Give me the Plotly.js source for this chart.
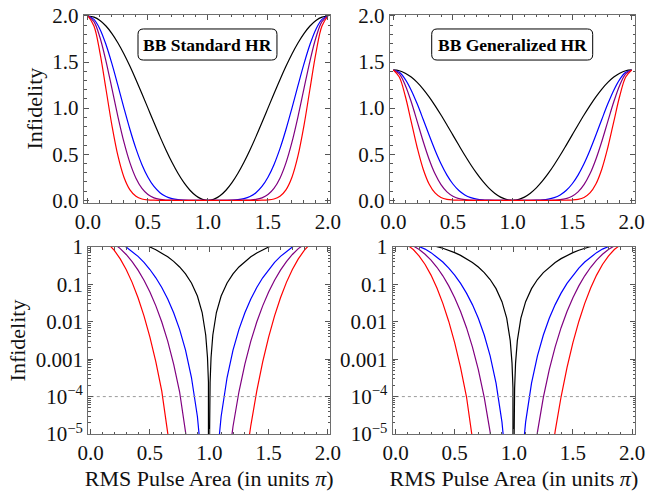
<!DOCTYPE html>
<html>
<head>
<meta charset="utf-8">
<script src="https://cdn.plot.ly/plotly-3.0.1.min.js"></script>
<style>html,body{margin:0;padding:0;background:#fff;}#chart{width:657px;height:491px;}</style>
</head>
<body>
<div id="chart"></div>
<script>
// RMS pulse area (units of pi)
const pulseArea = [0, 0.05, 0.1, 0.15, 0.2, 0.25, 0.3, 0.35, 0.4, 0.45, 0.5, 0.55, 0.6, 0.65, 0.7, 0.75, 0.8, 0.85, 0.9, 0.94, 0.97, 0.985, 0.993, 0.997, 0.9985, 0.9993, 1,
  1.0007, 1.0015, 1.003, 1.007, 1.015, 1.03, 1.06, 1.1, 1.15, 1.2, 1.25, 1.3, 1.35, 1.4, 1.45, 1.5, 1.55, 1.6, 1.65, 1.7, 1.75, 1.8, 1.85, 1.9, 1.95, 2];

// BB Standard HR
const stdBlack = [2, 1.98769, 1.95106, 1.89101, 1.80902, 1.70711, 1.58779, 1.45399, 1.30902, 1.15643, 1, 0.84357, 0.69098, 0.54601, 0.41221, 0.29289, 0.19098, 0.10899, 0.04894, 0.01771, 0.004438, 0.00111, 0.0002418, 4.442e-5, 1.11e-5, 2.418e-6, 0,
  2.418e-6, 1.11e-5, 4.442e-5, 0.0002418, 0.00111, 0.004438, 0.01771, 0.04894, 0.10899, 0.19098, 0.29289, 0.41221, 0.54601, 0.69098, 0.84357, 1, 1.15643, 1.30902, 1.45399, 1.58779, 1.70711, 1.80902, 1.89101, 1.95106, 1.98769, 2];
const stdBlue = [2, 1.9633, 1.8567, 1.6905, 1.4801, 1.2437, 1.0007, 0.7685, 0.5608, 0.3866, 0.25, 0.1501, 0.0825, 0.0407, 0.01751, 0.006282, 0.001741, 3.237e-4, 2.931e-5, 1.389e-6, 2.19e-8, 0, 0, 0, 0, 0, 0,
  0, 0, 0, 0, 0, 2.19e-8, 1.389e-6, 2.931e-5, 3.237e-4, 0.001741, 0.006282, 0.01751, 0.0407, 0.0825, 0.1501, 0.25, 0.3866, 0.5608, 0.7685, 1.0007, 1.2437, 1.4801, 1.6905, 1.8567, 1.9633, 2];
const stdPurple = [2, 1.9392, 1.7670, 1.5113, 1.2109, 0.9061, 0.6307, 0.4061, 0.2402, 0.1293, 0.0625, 0.0267, 0.00984, 0.003033, 7.432e-4, 1.347e-4, 1.587e-5, 9.61e-7, 1.76e-8, 1.1e-10, 0, 0, 0, 0, 0, 0, 0,
  0, 0, 0, 0, 0, 0, 1.1e-10, 1.76e-8, 9.61e-7, 1.587e-5, 1.347e-4, 7.432e-4, 0.003033, 0.00984, 0.0267, 0.0625, 0.1293, 0.2402, 0.4061, 0.6307, 0.9061, 1.2109, 1.5113, 1.7670, 1.9392, 2];
const stdRed = [2, 1.8919, 1.6003, 1.2078, 0.8105, 0.4809, 0.2505, 0.1134, 0.04408, 0.014445, 0.003906, 8.456e-4, 1.400e-4, 1.684e-5, 1.34e-6, 6.2e-8, 1.3e-9, 8.4e-12, 0, 0, 0, 0, 0, 0, 0, 0, 0,
  0, 0, 0, 0, 0, 0, 0, 0, 8.4e-12, 1.3e-9, 6.2e-8, 1.34e-6, 1.684e-5, 1.400e-4, 8.456e-4, 0.003906, 0.014445, 0.04408, 0.1134, 0.2505, 0.4809, 0.8105, 1.2078, 1.6003, 1.8919, 2];

// BB Generalized HR
const genBlack = [1.41421, 1.4055, 1.37961, 1.33714, 1.27917, 1.20711, 1.12274, 1.02813, 0.92562, 0.81772, 0.70711, 0.5965, 0.4886, 0.38609, 0.29148, 0.20711, 0.13504, 0.07707, 0.03461, 0.012523, 0.003138, 7.85e-4, 1.71e-4, 3.141e-5, 7.85e-6, 1.71e-6, 0,
  1.71e-6, 7.85e-6, 3.141e-5, 1.71e-4, 7.85e-4, 0.003138, 0.012523, 0.03461, 0.07707, 0.13504, 0.20711, 0.29148, 0.38609, 0.4886, 0.5965, 0.70711, 0.81772, 0.92562, 1.02813, 1.12274, 1.20711, 1.27917, 1.33714, 1.37961, 1.4055, 1.41421];
const genBlue = [1.41421, 1.38825, 1.31291, 1.19537, 1.04658, 0.87945, 0.70762, 0.54338, 0.39652, 0.2734, 0.17678, 0.10612, 0.05832, 0.028776, 0.012382, 0.004442, 0.0012314, 2.289e-4, 2.0725e-5, 9.82e-7, 1.55e-8, 0, 0, 0, 0, 0, 0,
  0, 0, 0, 0, 0, 1.55e-8, 9.82e-7, 2.0725e-5, 2.289e-4, 0.0012314, 0.004442, 0.012382, 0.028776, 0.05832, 0.10612, 0.17678, 0.2734, 0.39652, 0.54338, 0.70762, 0.87945, 1.04658, 1.19537, 1.31291, 1.38825, 1.41421];
const genPurple = [1.41421, 1.37122, 1.24944, 1.06866, 0.8562, 0.64072, 0.44596, 0.28718, 0.16988, 0.09141, 0.044194, 0.018878, 0.006957, 0.0021444, 5.255e-4, 9.527e-5, 1.1225e-5, 6.8e-7, 1.24e-8, 7.8e-11, 0, 0, 0, 0, 0, 0, 0,
  0, 0, 0, 0, 0, 0, 7.8e-11, 1.24e-8, 6.8e-7, 1.1225e-5, 9.527e-5, 5.255e-4, 0.0021444, 0.006957, 0.018878, 0.044194, 0.09141, 0.16988, 0.28718, 0.44596, 0.64072, 0.8562, 1.06866, 1.24944, 1.37122, 1.41421];
const genRed = [1.41421, 1.33776, 1.13158, 0.85404, 0.57312, 0.34004, 0.17715, 0.08021, 0.03117, 0.010214, 0.0027622, 5.979e-4, 9.9e-5, 1.1906e-5, 9.48e-7, 4.4e-8, 9.2e-10, 5.9e-12, 0, 0, 0, 0, 0, 0, 0, 0, 0,
  0, 0, 0, 0, 0, 0, 0, 0, 5.9e-12, 9.2e-10, 4.4e-8, 9.48e-7, 1.1906e-5, 9.9e-5, 5.979e-4, 0.0027622, 0.010214, 0.03117, 0.08021, 0.17715, 0.34004, 0.57312, 0.85404, 1.13158, 1.33776, 1.41421];

const threshold = 1e-4;
const panelTitles = ['BB Standard HR', 'BB Generalized HR'];
const linTicks = [0, 0.5, 1, 1.5, 2];
const logTicks = [1e-5, 1e-4, 0.001, 0.01, 0.1, 1];
const logTickText = ['10<sup>\u22125</sup>', '10<sup>\u22124</sup>', '0.001', '0.01', '0.1', '1'];
const yTitle = 'Infidelity';
const xTitle = 'RMS Pulse Area (in units <i>\u03c0</i>)';

const colors = ['#000000', '#0000ff', 'rgb(128,0,128)', '#ff0000'];
const families = [
  [stdBlack, stdBlue, stdPurple, stdRed],
  [genBlack, genBlue, genPurple, genRed]
];
// panel -> [x axis, y axis, family, log?]
const panels = [
  ['x', 'y', 0, false],
  ['x2', 'y2', 1, false],
  ['x3', 'y3', 0, true],
  ['x4', 'y4', 1, true]
];

const traces = [];
panels.forEach(p => {
  families[p[2]].forEach((ys, i) => {
    traces.push({
      type: 'scatter', mode: 'lines', x: pulseArea, y: ys,
      xaxis: p[0], yaxis: p[1], connectgaps: true,
      line: {color: colors[i], width: 1.2, shape: p[3] ? 'linear' : 'spline', smoothing: 1},
      hoverinfo: 'skip'
    });
  });
  if (p[3]) {
    traces.push({
      type: 'scatter', mode: 'lines', x: [-0.2, 2.2], y: [threshold, threshold],
      xaxis: p[0], yaxis: p[1],
      line: {color: '#9a9a9a', width: 1, dash: 'dot'}, hoverinfo: 'skip'
    });
  }
});

const FONT = '"Liberation Serif", "Times New Roman", serif';
const TICK_SIZE = 21;
const TITLE_SIZE = 22;
function baseAxis(extra) {
  return Object.assign({
    showline: true, linecolor: '#6e6e6e', linewidth: 1.2, mirror: 'allticks',
    ticks: 'inside', ticklen: 5, tickwidth: 1, tickcolor: '#555',
    showgrid: false, zeroline: false, fixedrange: true,
    tickfont: {family: FONT, size: TICK_SIZE, color: '#111'}
  }, extra);
}
const xLin = {tickvals: linTicks, tickformat: '.1f', minor: {dtick: 0.1, ticks: 'inside', ticklen: 2.5, tickcolor: '#555'}};
const yTopDomain = [(491 - 202.5) / 491, (491 - 14.7) / 491];
const yBotDomain = [(491 - 434) / 491, (491 - 247) / 491];
const titleFont = {family: FONT, size: TITLE_SIZE, color: '#111'};

const layout = {
  width: 657, height: 491,
  margin: {l: 0, r: 0, t: 0, b: 0},
  paper_bgcolor: '#fff', plot_bgcolor: '#fff',
  showlegend: false, hovermode: false,
  font: {family: FONT, size: TICK_SIZE, color: '#111'},
  xaxis: baseAxis(Object.assign({domain: [84 / 657, 330 / 657], range: [-0.033, 2.017], anchor: 'y'}, xLin)),
  yaxis: baseAxis(Object.assign({domain: yTopDomain, range: [-0.024, 2.014], anchor: 'x',
    title: {text: yTitle, font: titleFont, standoff: 3}}, xLin)),
  xaxis2: baseAxis(Object.assign({domain: [390 / 657, 635 / 657], range: [-0.028, 2.028], anchor: 'y2'}, xLin)),
  yaxis2: baseAxis(Object.assign({domain: yTopDomain, range: [-0.024, 2.014], anchor: 'x2'}, xLin)),
  xaxis3: baseAxis(Object.assign({domain: [88.3 / 657, 330 / 657], range: [-0.019, 2.017], anchor: 'y3',
    title: {text: xTitle, font: titleFont, standoff: 13}}, xLin)),
  yaxis3: baseAxis({domain: yBotDomain, type: 'log', range: [-5, 0], anchor: 'x3',
    tickvals: logTicks, ticktext: logTickText,
    minor: {dtick: 'D1', ticks: 'inside', ticklen: 2.5, tickcolor: '#555'},
    title: {text: yTitle, font: titleFont, standoff: 4}}),
  xaxis4: baseAxis(Object.assign({domain: [392.7 / 657, 635 / 657], range: [-0.024, 2.025], anchor: 'y4',
    title: {text: xTitle, font: titleFont, standoff: 13}}, xLin)),
  yaxis4: baseAxis({domain: yBotDomain, type: 'log', range: [-5, 0], anchor: 'x4',
    tickvals: logTicks, ticktext: logTickText,
    minor: {dtick: 'D1', ticks: 'inside', ticklen: 2.5, tickcolor: '#555'}}),
  shapes: [],
  annotations: []
};

// rounded label boxes (in axis data units of the top panels)
function roundedBox(xr, yr, x0, x1, y0, y1, rx, ry) {
  const d = `M ${x0 + rx},${y1} L ${x1 - rx},${y1} Q ${x1},${y1} ${x1},${y1 - ry} L ${x1},${y0 + ry} Q ${x1},${y0} ${x1 - rx},${y0} ` +
            `L ${x0 + rx},${y0} Q ${x0},${y0} ${x0},${y0 + ry} L ${x0},${y1 - ry} Q ${x0},${y1} ${x0 + rx},${y1} Z`;
  return {type: 'path', xref: xr, yref: yr, path: d, line: {color: '#000', width: 1}, fillcolor: '#fff', layer: 'above'};
}
layout.shapes.push(roundedBox('x', 'y', 0.417, 1.575, 1.522, 1.859, 0.045, 0.058));
layout.shapes.push(roundedBox('x2', 'y2', 0.322, 1.673, 1.522, 1.859, 0.045, 0.058));
layout.annotations.push({xref: 'x', yref: 'y', x: 0.996, y: 1.69, text: '<b>' + panelTitles[0] + '</b>', showarrow: false,
  font: {family: FONT, size: 17.5, color: '#000'}});
layout.annotations.push({xref: 'x2', yref: 'y2', x: 0.998, y: 1.69, text: '<b>' + panelTitles[1] + '</b>', showarrow: false,
  font: {family: FONT, size: 17.5, color: '#000'}});

Plotly.newPlot('chart', traces, layout, {staticPlot: true, displayModeBar: false});
</script>
</body>
</html>
